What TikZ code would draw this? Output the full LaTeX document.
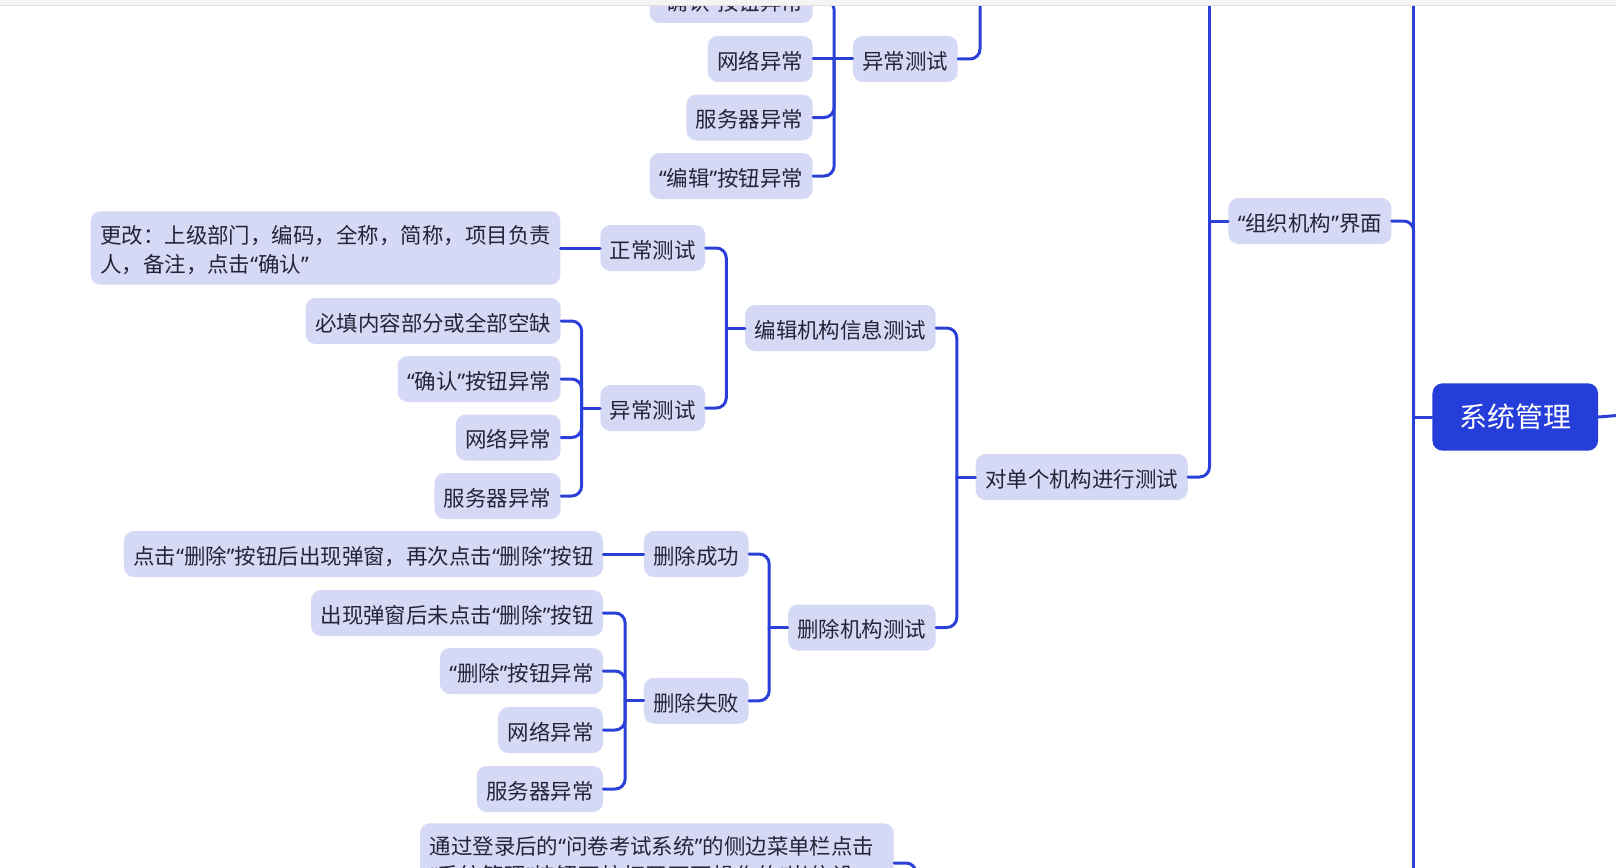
\documentclass[tikz,border=0pt]{standalone}
\usepackage{fontspec}
\setmainfont{Noto Sans CJK SC}
\newfontfamily\quotefont{Noto Sans}
\newcommand{\lqm}{{\quotefont“}}
\newcommand{\rqm}{{\quotefont”}}
\XeTeXlinebreaklocale "zh"
\XeTeXlinebreakskip=0pt plus 1pt
\usetikzlibrary{calc}

\definecolor{linkblue}{RGB}{43,64,216}
\definecolor{rootblue}{RGB}{37,61,217}
\definecolor{topicfill}{RGB}{213,217,245}
\definecolor{topictext}{RGB}{36,36,56}
\definecolor{barfill}{RGB}{244,244,244}
\definecolor{barline}{RGB}{226,226,226}

\begin{document}
\begin{tikzpicture}[x=0.75pt, y=-0.75pt, line join=round, line cap=round,
    font=\fontsize{16.1pt}{21.75pt}\selectfont,
    topic/.style={fill=topicfill, text=topictext, rounded corners=7.5pt, anchor=east,
        inner xsep=7.1pt, inner ysep=2pt, minimum height=34.5pt, text height=16pt, text depth=0.7pt},
    note/.style={fill=topicfill, text=topictext, rounded corners=7.5pt, anchor=east,
        inner xsep=7.1pt, inner ysep=2pt, minimum height=55pt, align=left},
    root/.style={fill=rootblue, text=white, rounded corners=7.5pt, anchor=east,
        font=\fontsize{21pt}{25pt}\selectfont, inner xsep=20.1pt, inner ysep=2pt,
        minimum height=50.5pt, text height=18.5pt, text depth=2.5pt},
    link/.style={draw=linkblue, line width=2.25pt, rounded corners=7.5pt}]
    \useasboundingbox (0,0) rectangle (1616,867);
    \clip (0,0) rectangle (1616,867);
    \coordinate (top) at (0,-20);
    \coordinate (bottom) at (0,900);

    % nodes
    \node[topic] (a1) at (813,0) {\lqm{}确认\rqm{}按钮异常};
    \node[topic] (a2) at (813,59) {网络异常};
    \node[topic] (a3) at (813,117.5) {服务器异常};
    \node[topic] (a4) at (813,176) {\lqm{}编辑\rqm{}按钮异常};
    \node[topic] (a0) at (958,59) {异常测试};

    \node[root] (root) at (1598.3,417) {系统管理};
    \node[topic] (org) at (1391.7,221) {\lqm{}组织机构\rqm{}界面};
    \node[topic] (single) at (1188,477) {对单个机构进行测试};
    \node[topic] (edit) at (936,328) {编辑机构信息测试};
    \node[topic] (del) at (936,627.5) {删除机构测试};

    \node[topic] (ok) at (705.5,248) {正常测试};
    \node[note, text height=39pt] (chg) at (560.7,248) {更改：上级部门，编码，全称，简称，项目负责\\人，备注，点击\lqm{}确认\rqm};
    \node[topic] (bad) at (705.5,408) {异常测试};
    \node[topic] (b1) at (561,321) {必填内容部分或全部空缺};
    \node[topic] (b2) at (561,379) {\lqm{}确认\rqm{}按钮异常};
    \node[topic] (b3) at (561,437.5) {网络异常};
    \node[topic] (b4) at (561,496) {服务器异常};

    \node[topic] (dok) at (749,554) {删除成功};
    \node[topic] (c0) at (603.3,554) {点击\lqm{}删除\rqm{}按钮后出现弹窗，再次点击\lqm{}删除\rqm{}按钮};
    \node[topic] (dfail) at (749,700.8) {删除失败};
    \node[topic] (c1) at (603.3,613) {出现弹窗后未点击\lqm{}删除\rqm{}按钮};
    \node[topic] (c2) at (603.3,671) {\lqm{}删除\rqm{}按钮异常};
    \node[topic] (c3) at (603.3,730) {网络异常};
    \node[topic] (c4) at (603.3,789) {服务器异常};

    \node[note, anchor=north east, text width=341pt, inner ysep=10pt] (login) at (894,823)
        {通过登录后的\lqm{}问卷考试系统\rqm{}的侧边菜单栏点击\\\lqm{}系统管理\rqm{}按钮下拉打开下面操作的\lqm{}岗位设置\rqm{}页面};

    % spines
    \foreach \p/\s in {a0/s0, root/sr, org/so, single/ss, edit/se, bad/sb, del/sd, dfail/sf}
    {
        \coordinate (\s) at ([xshift=-13.9pt]\p.west);
        \draw[link] (\p.west) -- (\s);
    }

    % connectors
    \foreach \s/\c in {s0/a1, s0/a3, s0/a4, sr/org, so/single, ss/edit, ss/del,
        se/ok, se/bad, sb/b1, sb/b2, sb/b3, sb/b4, sd/dok, sd/dfail,
        sf/c1, sf/c2, sf/c3, sf/c4}
        \draw[link] (\s) |- (\c.east);
    \draw[link] (s0) -- (a2.east);
    \draw[link] (chg.east) -- (ok.west);
    \draw[link] (c0.east) -- (dok.west);

    % branches that leave the view
    \draw[link] (a0.east) -| ($(a0.east |- top)+(22,0)$);
    \draw[link] (so) -- (so |- top);
    \draw[link] (sr) -- (sr |- top);
    \draw[link] (sr) -- (sr |- bottom);
    \draw[link] (login.east |- 0,863) -| ($(login.east |- bottom)+(22,0)$);
    \draw[link] (root.east) -- ++(25,-2);

    \fill[barfill] (0,0) rectangle (1616,5);
    \draw[barline, line width=0.75pt] (0,5.5) -- (1616,5.5);
\end{tikzpicture}
\end{document}
